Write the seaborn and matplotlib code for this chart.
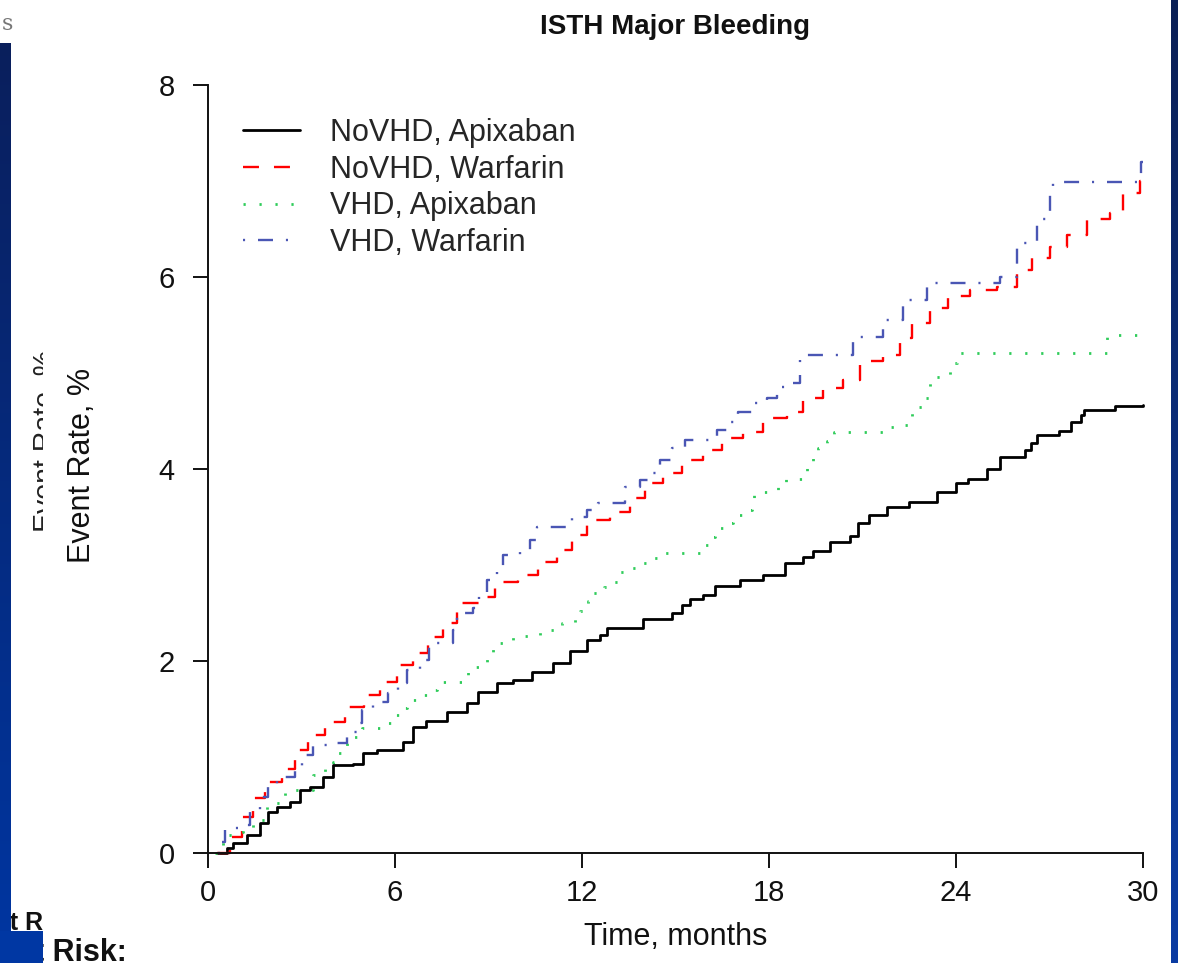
import numpy as np
import pandas as pd
import matplotlib
matplotlib.use("Agg")
import matplotlib.pyplot as plt
from matplotlib.colors import LinearSegmentedColormap
from matplotlib.patches import Rectangle
from matplotlib.transforms import Bbox, TransformedBbox
import seaborn as sns

# ---------------------------------------------------------
# Data (months, %)
# ---------------------------------------------------------
series_names = ["NoVHD, Apixaban", "NoVHD, Warfarin", "VHD, Apixaban", "VHD, Warfarin"]

t_novhd_apix = [0.3, 0.6, 0.8, 1.25, 1.67, 1.93, 2.2, 2.63, 2.95, 3.27,
                3.69, 4.01, 4.65, 4.97, 5.42, 6.26, 6.58, 7.0, 7.67, 8.31,
                8.66, 9.27, 9.79, 10.4, 11.07, 11.6, 12.16, 12.58, 12.8, 13.96,
                14.88, 15.2, 15.46, 15.88, 16.27, 17.07, 17.8, 18.5, 19.1, 19.4,
                19.96, 20.6, 20.85, 21.2, 21.8, 22.5, 23.4, 24.0, 24.4, 25.0,
                25.4, 26.2, 26.4, 26.6, 27.3, 27.7, 28.0, 28.1, 29.1, 30.0]
v_novhd_apix = [0.0, 0.05, 0.1, 0.19, 0.31, 0.43, 0.48, 0.53, 0.66, 0.69,
                0.79, 0.92, 0.93, 1.04, 1.07, 1.16, 1.31, 1.38, 1.47, 1.56,
                1.68, 1.77, 1.8, 1.89, 1.98, 2.1, 2.22, 2.27, 2.34, 2.44,
                2.5, 2.58, 2.65, 2.69, 2.78, 2.84, 2.9, 3.02, 3.08, 3.15,
                3.24, 3.3, 3.44, 3.52, 3.6, 3.66, 3.76, 3.85, 3.9, 4.0,
                4.12, 4.2, 4.27, 4.35, 4.4, 4.49, 4.56, 4.61, 4.66, 4.67]

t_novhd_warf = [0.3, 0.71, 1.09, 1.44, 1.83, 2.37, 2.79, 3.21, 3.75, 4.4,
                5.0, 5.52, 6.06, 6.58, 7.06, 7.54, 7.99, 8.73, 9.21, 9.95,
                10.59, 11.2, 11.68, 12.16, 12.9, 13.54, 14.02, 14.6, 15.2, 15.88,
                16.49, 17.16, 17.8, 18.58, 19.1, 19.73, 20.37, 20.92, 21.66, 22.2,
                22.6, 23.16, 23.74, 24.45, 25.3, 25.95, 26.44, 27.0, 27.56, 28.2,
                28.94, 29.36, 29.9, 30.0]
v_novhd_warf = [0.0, 0.17, 0.38, 0.57, 0.74, 0.88, 1.07, 1.23, 1.36, 1.52,
                1.65, 1.78, 1.96, 2.08, 2.25, 2.4, 2.6, 2.67, 2.82, 2.9,
                3.03, 3.16, 3.31, 3.47, 3.55, 3.7, 3.85, 3.96, 4.09, 4.2,
                4.32, 4.39, 4.53, 4.59, 4.74, 4.84, 4.93, 5.13, 5.19, 5.36,
                5.52, 5.68, 5.8, 5.86, 5.9, 6.07, 6.2, 6.31, 6.44, 6.6,
                6.67, 6.88, 7.0, 7.0]

t_vhd_apix = [0.22, 0.48, 0.8, 1.12, 1.44, 1.89, 2.31, 2.47, 3.37, 3.75,
              4.01, 4.17, 4.46, 4.65, 4.94, 5.77, 5.94, 6.22, 6.38, 6.7,
              7.06, 7.35, 8.15, 8.34, 8.7, 8.95, 9.14, 9.79, 10.65, 11.36,
              11.77, 11.93, 12.19, 12.35, 12.7, 12.99, 13.22, 13.51, 13.92, 14.18,
              14.5, 15.78, 16.04, 16.27, 16.59, 16.84, 17.2, 17.45, 17.52, 18.29,
              18.54, 19.22, 19.41, 19.57, 19.86, 20.08, 21.88, 22.3, 22.6, 22.9,
              23.16, 23.8, 24.03, 28.84, 30.0]
v_vhd_apix = [0.0, 0.19, 0.22, 0.26, 0.34, 0.52, 0.57, 0.66, 0.81, 0.88,
              0.95, 1.04, 1.16, 1.21, 1.3, 1.35, 1.44, 1.51, 1.59, 1.65,
              1.7, 1.78, 1.85, 1.94, 1.99, 2.06, 2.19, 2.26, 2.32, 2.4,
              2.44, 2.52, 2.63, 2.71, 2.77, 2.82, 2.93, 2.97, 3.02, 3.07,
              3.13, 3.21, 3.29, 3.39, 3.44, 3.52, 3.57, 3.63, 3.76, 3.85,
              3.9, 4.02, 4.13, 4.22, 4.29, 4.39, 4.44, 4.46, 4.65, 4.74,
              4.96, 5.1, 5.21, 5.4, 5.4]

t_vhd_warf = [0.32, 0.45, 0.55, 1.03, 1.35, 1.67, 1.93, 2.2, 2.79, 3.0,
              3.37, 3.91, 4.46, 4.78, 4.94, 5.29, 5.77, 6.1, 6.38, 6.8,
              7.1, 7.86, 7.99, 8.5, 8.7, 8.95, 9.27, 9.46, 10.0, 10.33,
              10.55, 11.68, 12.16, 12.51, 13.38, 13.86, 14.28, 14.5, 14.89, 15.3,
              16.33, 16.75, 17.0, 17.48, 17.93, 18.25, 18.77, 19.0, 20.7, 21.66,
              22.3, 23.07, 25.4, 25.95, 26.6, 27.0, 27.1, 29.95, 30.0]
v_vhd_warf = [0.0, 0.11, 0.26, 0.29, 0.45, 0.58, 0.71, 0.79, 0.88, 1.02,
              1.12, 1.15, 1.26, 1.35, 1.49, 1.57, 1.67, 1.77, 1.91, 2.01,
              2.19, 2.32, 2.5, 2.55, 2.71, 2.84, 2.95, 3.1, 3.14, 3.26,
              3.4, 3.5, 3.57, 3.65, 3.81, 3.89, 3.96, 4.09, 4.22, 4.3,
              4.41, 4.49, 4.59, 4.69, 4.74, 4.85, 4.9, 5.19, 5.37, 5.55,
              5.76, 5.94, 6.0, 6.35, 6.6, 6.9, 6.99, 7.2, 7.2]

x_ticks = [0, 6, 12, 18, 24, 30]
y_ticks = [0, 2, 4, 6, 8]

# ---------------------------------------------------------
# Styling
# ---------------------------------------------------------
sns.set_theme(style="ticks")
plt.rcParams['font.family'] = ['Liberation Sans', 'DejaVu Sans']
plt.rcParams['lines.scale_dashes'] = False

colors = ["#000000", "#ff0000", "#2fcc5a", "#4a56b4"]
widths = [2.0, 1.7, 2.0, 1.7]
styles = ["-",
          (0, (11.5, 10.8)),
          (0, (1.6, 9.9)),
          (0, (1.5, 9.3, 10.8, 9.3))]

W, H = 1178, 963
fig = plt.figure(figsize=(W / 100, H / 100), dpi=100)
fig.patch.set_facecolor("white")
ax = fig.add_axes([208 / W, 1 - 853 / H, 935 / W, 768 / H])

curves = [(t_novhd_apix, v_novhd_apix), (t_novhd_warf, v_novhd_warf),
          (t_vhd_apix, v_vhd_apix), (t_vhd_warf, v_vhd_warf)]

for (t, v), name, c, lw, ls in zip(curves, series_names, colors, widths, styles):
    df = pd.DataFrame({"Time": t, "Rate": v})
    sns.lineplot(data=df, x="Time", y="Rate", ax=ax, color=c, lw=lw,
                 linestyle=ls, drawstyle="steps-post", label=name,
                 errorbar=None, clip_on=False)

ax.set_xlim(0, 30)
ax.set_ylim(0, 8)
ax.set_xticks(x_ticks)
ax.set_yticks(y_ticks)
for s in ["top", "right"]:
    ax.spines[s].set_visible(False)
for s in ["left", "bottom"]:
    ax.spines[s].set_linewidth(1.4)
    ax.spines[s].set_color("#111111")
ax.tick_params(direction="out", length=10.8, width=1.4, colors="#111111",
               labelsize=21)
ax.tick_params(axis="y", pad=13)
ax.tick_params(axis="x", pad=8)

ax.set_xlabel("Time, months", fontsize=22, color="#111111")
ax.set_ylabel("Event Rate, %", fontsize=22, color="#111111")
ax.xaxis.set_label_coords(0.5, (853 - 922) / 768)
ax.yaxis.set_label_coords((97 - 208) / 935, (853 - 465) / 768)

ax.legend(loc="upper left", bbox_to_anchor=((243 - 208) / 935, (853 - 118) / 768),
          frameon=False, fontsize=22, borderpad=0, borderaxespad=0,
          handlelength=1.86, handletextpad=1.0, labelspacing=0.22)

fig.text(675 / W, 1 - 34 / H, "ISTH Major Bleeding", ha="center",
         va="baseline", fontsize=20, fontweight="bold", color="#111111")

# ---------------------------------------------------------
# Slide background remnants around the chart
# ---------------------------------------------------------
ghost = fig.text(33 / W, 1 - 441 / H, "Event Rate, %", rotation=90,
                 rotation_mode="anchor", ha="center", va="top",
                 fontsize=20.5, color="#222222")
ghost.set_clip_box(TransformedBbox(Bbox([[0, 0], [43 / W, 1]]), fig.transFigure))

fig.text(2 / W, 1 - 30 / H, "s", fontsize=16, color="#777777", family="DejaVu Serif")
fig.text(43 / W, 1 - 930 / H, "at R", ha="right", va="baseline",
         fontsize=18, fontweight="bold", color="#111111")
fig.text(12 / W, 1 - 961 / H, "At Risk:", ha="left", va="baseline",
         fontsize=22, fontweight="bold", color="#111111")

band_cmap_l = LinearSegmentedColormap.from_list("bl", ["#0a1f5c", "#0036a2"])
band_cmap_r = LinearSegmentedColormap.from_list("br", ["#0a1f55", "#0a3ba2"])
grad = np.linspace(0, 1, 256).reshape(-1, 1)

ax_l = fig.add_axes([0, 0, 11 / W, (H - 43) / H], zorder=10)
ax_l.imshow(grad, aspect="auto", cmap=band_cmap_l, origin="upper")
ax_l.axis("off")
ax_r = fig.add_axes([1171 / W, 0, 7 / W, 1], zorder=10)
ax_r.imshow(grad, aspect="auto", cmap=band_cmap_r, origin="upper")
ax_r.axis("off")
fig.add_artist(Rectangle((0, 0), 42.5 / W, (H - 931) / H, transform=fig.transFigure,
                         facecolor="#0037a3", edgecolor="none", zorder=11))

fig.savefig("out.png", dpi=100)
